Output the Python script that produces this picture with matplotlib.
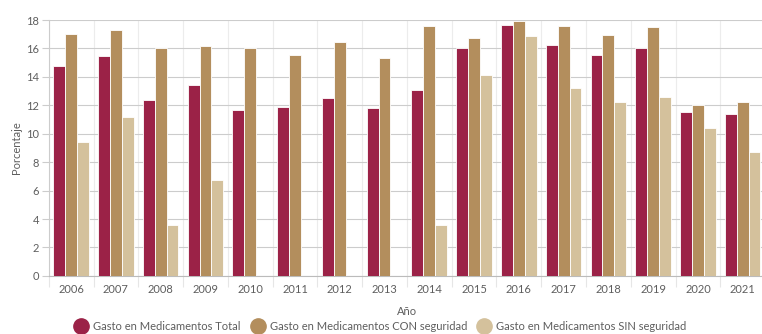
import numpy as np
import matplotlib.pyplot as plt
from matplotlib.lines import Line2D

plt.rcParams['font.family'] = ['Lato', 'DejaVu Sans']

years = ["2006", "2007", "2008", "2009", "2010", "2011", "2012", "2013",
         "2014", "2015", "2016", "2017", "2018", "2019", "2020", "2021"]
total = [14.8, 15.45, 12.35, 13.4, 11.7, 11.9, 12.5, 11.8,
         13.05, 16.0, 17.65, 16.25, 15.55, 16.0, 11.55, 11.4]
con_seg = [17.0, 17.3, 16.0, 16.2, 16.0, 15.55, 16.45, 15.3,
           17.55, 16.75, 17.9, 17.6, 16.95, 17.5, 12.0, 12.2]
sin_seg = [9.45, 11.15, 3.55, 6.75, 0, 0, 0, 0,
           3.55, 14.1, 16.85, 13.25, 12.2, 12.6, 10.4, 8.75]

c_total = "#9B2247"
c_con = "#B38E5D"
c_sin = "#D4C19C"
txt = "#5e5e5e"

fig = plt.figure(figsize=(7.62, 3.34), dpi=100)
ax = fig.add_axes([0.064, 0.174, 0.94, 0.766])

x = np.arange(len(years))
w = 0.265
ax.bar(x - w, total, w, color=c_total, edgecolor="white", linewidth=0.6, zorder=3)
ax.bar(x, con_seg, w, color=c_con, edgecolor="white", linewidth=0.6, zorder=3)
ax.bar(x + w, sin_seg, w, color=c_sin, edgecolor="white", linewidth=0.6, zorder=3)

ax.set_xlim(-0.5, len(years) - 0.5)
ax.set_ylim(0, 18)
ax.set_yticks(range(0, 19, 2))
ax.grid(axis="y", color="#cccccc", linewidth=0.8, zorder=0)

# vertical separators between years
ax.set_xticks(np.arange(-0.5, len(years), 1), minor=False)
ax.set_xticklabels([])
ax.tick_params(axis="x", length=8, color="#e6e6e6", width=0.8)
ax.grid(axis="x", color="#ececec", linewidth=0.8, zorder=0)
ax.set_xticks(x, minor=True)
ax.set_xticklabels(years, minor=True)
ax.tick_params(axis="x", which="minor", length=0, labelsize=8, labelcolor=txt, pad=6)
ax.tick_params(axis="y", length=5, color="#cccccc", labelsize=8, labelcolor=txt, pad=2)

for s in ["top", "right"]:
    ax.spines[s].set_visible(False)
ax.spines["left"].set_color("#cccccc")
ax.spines["bottom"].set_color("#bbbbbb")

ax.set_ylabel("Porcentaje", fontsize=8, color=txt, labelpad=3)
ax.set_xlabel("Año", fontsize=8, color=txt, labelpad=8)

handles = [Line2D([], [], marker="o", ls="", markersize=11, color=c)
           for c in (c_total, c_con, c_sin)]
labels = ["Gasto en Medicamentos Total", "Gasto en Medicamentos CON seguridad",
          "Gasto en Medicamentos SIN seguridad"]
fig.legend(handles, labels, loc="center", bbox_to_anchor=(0.5, 0.022), ncol=3,
           frameon=False, fontsize=8, labelcolor=txt, handletextpad=0.6,
           columnspacing=1.0, handlelength=1.0)

fig.savefig("out.png", dpi=100)
